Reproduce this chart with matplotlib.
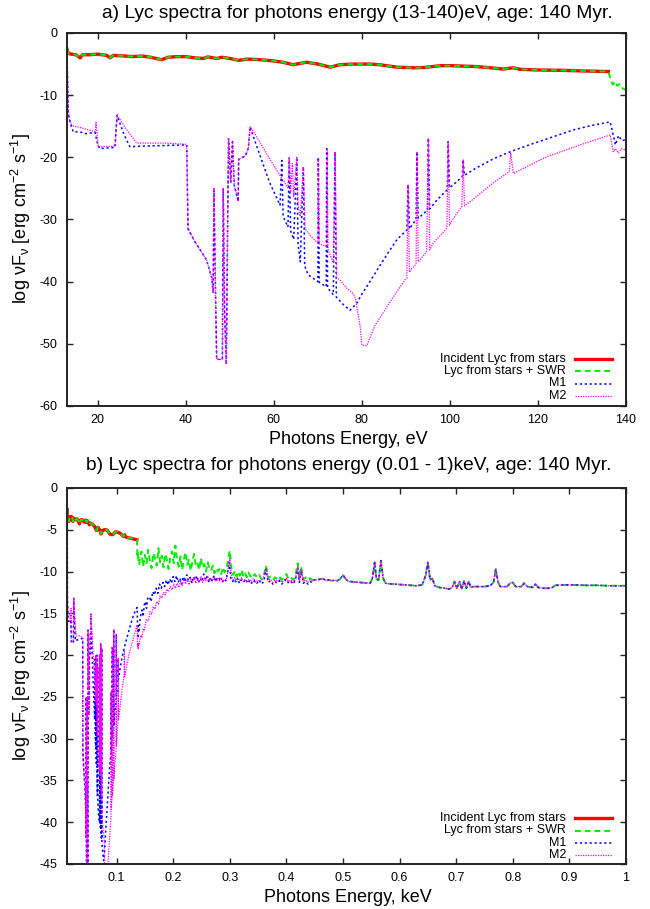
import numpy as np
import matplotlib
matplotlib.use("Agg")
import matplotlib.pyplot as plt
from matplotlib.lines import Line2D

plt.rcParams["font.family"] = ["Liberation Sans", "DejaVu Sans"]
plt.rcParams["mathtext.fontset"] = "custom"
plt.rcParams["mathtext.rm"] = "Liberation Sans"
plt.rcParams["mathtext.it"] = "Liberation Sans"
plt.rcParams["mathtext.bf"] = "Liberation Sans:bold"
plt.rcParams["axes.unicode_minus"] = False

# ---------------- spectra (energy in eV, log nuF_nu) ----------------
# incident Lyc continuum from the stars
inc_E = [13.0, 13.3, 14.0, 15.0, 16.0, 16.5, 18.0, 20.0, 22.0, 22.8, 23.5, 26.0, 28.0,
         30.0, 32.0, 34.5, 36.0, 38.0, 40.0, 42.0, 44.0, 45.0, 47.0, 48.2, 50.0, 52.0,
         54.0, 57.0, 60.0, 62.0, 64.4, 67.4, 70.0, 72.8, 75.0, 78.0, 80.0, 82.0, 84.0,
         86.0, 88.0, 90.0, 92.0, 94.0, 96.0, 98.0, 100.0, 102.0, 106.0, 110.0, 112.0,
         114.4, 116.0, 120.0, 125.0, 130.0, 136.0]
inc_F = [-2.6, -3.3, -3.4, -3.5, -4.0, -3.5, -3.5, -3.4, -3.6, -4.0, -3.6, -3.7, -3.8,
         -3.7, -3.9, -4.3, -3.9, -3.8, -3.8, -4.0, -4.1, -3.85, -4.1, -3.9, -4.1, -4.4,
         -4.2, -4.3, -4.5, -4.7, -5.1, -4.7, -5.0, -5.5, -5.1, -5.0, -5.0, -5.0, -5.1,
         -5.3, -5.5, -5.55, -5.6, -5.55, -5.4, -5.25, -5.25, -5.3, -5.4, -5.65, -5.8,
         -5.6, -5.85, -5.95, -6.0, -6.1, -6.2]

# stars + SWR beyond the end of the incident continuum
swr_E = [136.5, 137.0, 137.5, 138.0, 138.5, 139.0, 140.0, 141, 144, 147, 150, 153, 156,
         159, 162, 165, 168, 171, 174, 177, 180, 183, 186, 189, 192, 195, 198, 201, 204,
         207, 210, 213, 216, 219, 222, 225, 228, 231, 234, 237, 240, 243, 246, 249, 252,
         255, 258, 261, 264, 267, 270, 273, 276, 279, 282, 285, 288, 291, 294, 297, 300,
         303, 306, 309, 312, 315, 318, 321, 324, 327, 330, 333, 336, 340, 344, 348, 352,
         356, 360, 364, 368, 372, 376, 380, 384, 388, 392, 396, 400, 404, 408, 412, 416,
         420, 423, 426, 430, 434, 438, 442, 446]
swr_F = [-7.5, -8.3, -7.8, -8.5, -8.2, -8.8, -9.2, -8.6, -7.6, -9.4, -8.0, -9.0, -7.4,
         -8.8, -9.6, -7.8, -8.4, -9.3, -7.2, -8.9, -8.1, -9.5, -7.9, -8.6, -9.7, -8.3,
         -7.6, -9.0, -6.9, -8.7, -9.4, -8.2, -9.8, -8.5, -7.7, -9.2, -8.6, -9.9, -8.8,
         -7.9, -9.3, -9.0, -9.8, -8.4, -9.5, -9.1, -10.0, -8.9, -9.6, -9.9, -9.3, -10.2,
         -9.6, -10.0, -9.7, -10.3, -9.5, -10.1, -9.8, -8.6, -7.5, -9.6, -10.4, -9.9,
         -10.6, -10.0, -10.5, -9.8, -10.6, -10.2, -10.7, -10.1, -10.5, -10.8, -10.3,
         -10.7, -10.4, -10.9, -10.5, -9.3, -10.8, -10.6, -11.0, -10.7, -10.9, -10.6,
         -11.0, -10.7, -10.3, -10.9, -10.7, -11.0, -10.5, -9.0, -10.8, -9.4, -10.9,
         -10.7, -11.0, -10.8, -11.0]

# high-energy tail shared by all reprocessed spectra
tail_E = [450, 455, 460, 465, 470, 475, 480, 485, 490, 495, 500, 505, 510, 515, 520, 530,
          540, 548, 552, 556, 559, 563, 567, 571, 575, 580, 590, 600, 610, 620, 630, 640,
          646, 650, 654, 658, 662, 670, 680, 688, 693, 697, 701, 706, 710, 714, 718, 722,
          726, 730, 740, 750, 760, 766, 770, 774, 778, 790, 795, 800, 805, 815, 820, 826,
          835, 840, 845, 855, 862, 868, 875, 890, 910, 930, 950, 970, 1000]
tail_F = [-11.0, -11.0, -10.9, -10.85, -11.1, -11.0, -11.1, -11.05, -11.1, -10.9, -10.4,
          -10.9, -11.2, -11.2, -11.25, -11.3, -11.35, -11.4, -10.8, -8.9, -10.9, -11.0,
          -8.7, -10.8, -11.4, -11.45, -11.5, -11.55, -11.6, -11.65, -11.7, -11.6, -10.5,
          -8.9, -11.0, -10.8, -11.7, -11.9, -12.0, -12.1, -11.9, -11.2, -12.0, -11.2,
          -12.1, -11.1, -12.0, -11.2, -11.9, -11.8, -11.8, -11.8, -11.7, -11.3, -9.7,
          -11.3, -11.8, -11.8, -11.4, -11.3, -11.8, -11.8, -11.4, -11.8, -11.9, -11.5,
          -11.9, -12.0, -12.0, -12.0, -11.65, -11.6, -11.6, -11.65, -11.65, -11.7, -11.7]

# absorption trough common to M1 and M2 (40-55 eV)
dip_E = [40.5, 42.0, 44.7, 45.9, 46.2, 46.4, 46.7, 47.0, 48.3, 48.5, 48.8, 49.2, 49.5,
         49.7, 50.2, 50.6, 51.0, 51.9, 52.0, 53.5, 54.2, 54.6]
dip_F = [-31.5, -33.5, -36.5, -39.4, -41.8, -25.0, -40.0, -52.5, -52.5, -25.0, -45.0,
         -53.3, -30.0, -17.0, -24.0, -17.5, -24.5, -27.1, -20.3, -19.8, -18.5, -15.1]

# model M1
m1_lo_E = [13.0, 13.15, 13.3, 13.6, 14.0, 14.4, 16.0, 17.0, 19.4, 19.8, 20.4, 23.9,
           24.1, 24.4, 25.0, 26.0, 27.3, 30.0, 35.0, 40.2]
m1_lo_F = [-3.0, -8.0, -13.0, -14.0, -15.0, -15.9, -15.9, -16.2, -16.0, -17.5, -18.6,
           -18.4, -16.0, -13.2, -14.5, -16.4, -18.3, -18.2, -18.1, -18.0]
m1_hi_E = [55.5, 57.0, 59.0, 61.4, 61.8, 62.1, 63.2, 63.5, 63.8, 64.5, 65.2, 65.5, 66.0,
           66.7, 67.0, 67.8, 69.0, 70.0, 70.1, 70.3, 71.2, 71.9, 72.0, 72.2, 73.5, 73.9,
           74.2, 75.8, 77.3, 78.8, 80.0, 82.0, 84.0, 86.0, 88.0, 90.2, 90.5, 90.8, 92.3,
           92.5, 92.8, 94.9, 95.1, 95.4, 97.0, 99.4, 99.6, 99.9, 100.8, 102.8, 103.0,
           103.3, 106.0, 110.0, 113.7, 118.0, 123.0, 128.0, 132.0, 136.4, 137.1, 137.6,
           138.3, 139.0, 139.8]
m1_hi_F = [-17.0, -20.0, -24.0, -27.7, -20.5, -29.5, -31.2, -20.1, -31.8, -33.2, -20.0,
           -34.0, -36.8, -21.5, -37.5, -38.9, -39.5, -40.0, -20.0, -40.1, -40.5, -40.8,
           -18.6, -41.0, -42.1, -19.2, -42.5, -43.7, -44.6, -43.5, -42.0, -39.8, -37.5,
           -35.3, -33.2, -31.7, -24.4, -31.5, -30.0, -19.1, -29.8, -28.5, -16.9, -28.3,
           -26.9, -25.2, -17.5, -24.9, -24.4, -23.1, -20.4, -22.9, -21.7, -20.2, -19.1,
           -18.0, -16.8, -15.6, -14.9, -14.3, -16.4, -18.0, -16.5, -17.3, -17.2]
m1_x_E = [141, 143, 145, 147, 149, 151, 153, 155, 158, 161, 164, 167, 170, 173, 176, 179,
          182, 185, 188, 191, 194, 197, 200, 203, 206, 209, 212, 215, 218, 221, 224, 227,
          230, 233, 236, 239, 242, 245, 248, 251, 254, 257, 260, 263, 266, 269, 272, 275,
          278, 281, 284, 287, 290, 293, 296, 299, 302, 305, 308, 311, 314, 317, 320, 324,
          328, 332, 336, 340, 344, 348, 352, 356, 360, 364, 368, 372, 376, 380, 384, 388,
          392, 396, 400, 404, 408, 412, 416, 420, 423, 426, 430, 434, 438, 442, 446]
m1_x_F = [-16.0, -15.2, -14.6, -15.4, -14.0, -13.6, -14.4, -13.2, -13.0, -13.6, -12.4,
          -12.8, -12.0, -12.6, -11.5, -12.0, -11.3, -11.8, -11.0, -11.6, -10.9, -11.4,
          -10.6, -11.2, -10.5, -11.3, -10.8, -11.5, -10.6, -11.2, -10.4, -11.1, -10.7,
          -11.4, -10.6, -11.0, -10.5, -11.3, -10.8, -11.2, -10.3, -11.0, -10.6, -11.3,
          -10.7, -11.1, -10.5, -11.2, -10.8, -11.0, -10.6, -11.3, -10.9, -11.1, -10.2,
          -8.9, -10.8, -11.2, -10.9, -11.3, -10.8, -11.4, -11.0, -11.3, -10.9, -11.4,
          -11.0, -11.5, -11.1, -11.4, -11.0, -11.5, -11.2, -9.7, -11.3, -11.1, -11.5,
          -11.2, -11.4, -11.1, -11.5, -11.2, -10.9, -11.4, -11.2, -11.5, -11.0, -9.6,
          -11.3, -9.9, -11.4, -11.2, -11.5, -11.2, -11.3]

# model M2
m2_lo_E = [13.0, 13.15, 13.4, 13.8, 14.5, 16.0, 18.0, 19.4, 19.6, 19.8, 20.1, 23.9, 24.4,
           26.0, 28.8, 35.0, 40.2]
m2_lo_F = [-3.0, -8.0, -13.5, -14.5, -15.0, -15.2, -15.6, -15.9, -14.4, -16.0, -18.3,
           -18.2, -13.2, -15.0, -17.7, -17.7, -17.9]
m2_hi_E = [55.5, 58.0, 61.0, 63.2, 63.5, 63.8, 64.2, 64.5, 65.2, 65.5, 66.0, 66.7, 67.1,
           68.5, 70.0, 70.1, 70.3, 72.0, 72.1, 72.3, 73.5, 73.9, 74.3, 75.0, 76.5, 78.0,
           78.5, 79.6, 80.0, 81.1, 83.0, 85.0, 87.0, 89.8, 90.2, 90.5, 90.8, 91.3, 92.3,
           92.5, 92.8, 94.7, 95.1, 95.4, 96.2, 99.3, 99.6, 99.9, 100.8, 102.7, 103.0,
           103.3, 105.0, 110.0, 113.5, 113.8, 114.4, 118.0, 122.0, 126.0, 130.0, 133.0,
           136.4, 137.1, 137.6, 138.3, 139.0, 139.8]
m2_hi_F = [-16.0, -19.0, -22.5, -24.9, -20.1, -25.6, -21.0, -26.3, -20.0, -27.8, -29.5,
           -21.5, -31.5, -32.8, -33.8, -20.0, -33.9, -34.4, -18.6, -34.8, -37.0, -19.2,
           -39.4, -39.7, -41.0, -41.9, -42.6, -47.2, -50.2, -50.3, -47.0, -44.8, -42.6,
           -39.7, -39.5, -24.4, -38.5, -37.9, -37.2, -19.1, -36.8, -35.2, -16.9, -34.9,
           -33.8, -31.4, -17.5, -30.9, -29.8, -27.9, -20.4, -27.8, -26.9, -24.0, -22.3,
           -19.3, -22.6, -21.3, -19.9, -18.9, -17.9, -17.2, -16.4, -19.1, -18.6, -19.3,
           -18.6, -18.8]
m2_x_E = [141, 143, 145, 147, 149, 151, 153, 156, 159, 162, 165, 168, 171, 174, 177, 180,
          183, 186, 189, 192, 195, 198, 201, 204, 207, 210, 213, 216, 219, 222, 225, 228,
          231, 234, 237, 240, 243, 246, 249, 252, 255, 258, 261, 264, 267, 270, 273, 276,
          279, 282, 285, 288, 291, 294, 297, 300, 303, 306, 309, 312, 315, 318, 321, 324,
          327, 330, 334, 338, 342, 346, 350, 354, 358, 362, 365, 368, 372, 376, 380, 384,
          388, 392, 396, 400, 404, 408, 412, 416, 420, 423, 426, 430, 434, 438, 442, 446]
m2_x_F = [-18.2, -17.6, -17.9, -16.8, -17.1, -16.2, -15.7, -15.9, -14.8, -15.1, -14.2,
          -14.5, -13.6, -13.9, -12.9, -13.2, -12.5, -12.8, -12.1, -12.4, -11.8, -12.2,
          -11.5, -12.0, -11.4, -11.9, -11.2, -11.7, -10.9, -11.5, -11.0, -11.6, -10.8,
          -11.3, -10.7, -11.4, -10.9, -11.2, -10.6, -11.3, -10.8, -11.1, -10.5, -11.2,
          -10.9, -11.0, -10.6, -11.2, -10.8, -11.1, -10.7, -11.2, -10.9, -11.0, -9.8,
          -8.4, -10.6, -11.0, -10.7, -11.2, -10.8, -11.1, -10.7, -11.2, -10.9, -11.3,
          -10.9, -11.2, -10.8, -11.3, -11.0, -11.2, -10.9, -10.2, -9.6, -11.0, -10.9,
          -11.3, -11.0, -11.2, -10.9, -11.3, -11.0, -10.8, -11.2, -11.0, -11.3, -10.9,
          -9.4, -11.1, -9.7, -11.2, -11.0, -11.3, -11.0, -11.2]

labels = ["Incident Lyc from stars", "Lyc from stars + SWR", "M1", "M2"]

# assembled series
series = [
    (np.array(inc_E), np.array(inc_F)),
    (np.array(inc_E + swr_E + tail_E), np.array(inc_F + swr_F + tail_F)),
    (np.array(m1_lo_E + dip_E + m1_hi_E + m1_x_E + tail_E),
     np.array(m1_lo_F + dip_F + m1_hi_F + m1_x_F + tail_F)),
    (np.array(m2_lo_E + dip_E + m2_hi_E + m2_x_E + tail_E),
     np.array(m2_lo_F + dip_F + m2_hi_F + m2_x_F + tail_F)),
]

styles = [
    dict(color="#ff0000", lw=2.4, ls="-"),
    dict(color="#00ee00", lw=1.4, ls=(0, (3, 2))),
    dict(color="#0000ff", lw=1.1, ls=(0, (1.4, 1.8))),
    dict(color="#ff00ff", lw=0.9, ls=(0, (1, 1))),
]

W, H = 650, 909
fig = plt.figure(figsize=(W / 100, H / 100), dpi=100)


def fx(px):
    return px / W


def fy(py):
    return 1 - py / H


ax1 = fig.add_axes([fx(67), fy(406), (626 - 67) / W, (406 - 33) / H])
ax2 = fig.add_axes([fx(67), fy(864), (626 - 67) / W, (864 - 488) / H])

for (E, F), st in zip(series, styles):
    ax1.plot(E, F, **st)
    ax2.plot(E / 1000.0, F, **st)

ax1.set_xlim(13, 140)
ax1.set_ylim(-60, 0)
ax1.set_xticks(range(20, 141, 20))
ax1.set_yticks(range(-60, 1, 10))
ax1.set_yticklabels([str(v) for v in range(-60, 1, 10)])

ax2.set_xlim(0.0125, 1.0)
ax2.set_ylim(-45, 0)
xt = [0.1, 0.2, 0.3, 0.4, 0.5, 0.6, 0.7, 0.8, 0.9, 1.0]
ax2.set_xticks(xt)
ax2.set_xticklabels(["0.1", "0.2", "0.3", "0.4", "0.5", "0.6", "0.7", "0.8", "0.9", "1"])
ax2.set_yticks(range(-45, 1, 5))
ax2.set_yticklabels([str(v) for v in range(-45, 1, 5)])

for ax in (ax1, ax2):
    for sp in ax.spines.values():
        sp.set_linewidth(1.4)
        sp.set_color("#222222")
    ax.tick_params(direction="in", length=4, width=1.0, top=True, right=True,
                   labelsize=9, colors="#222222", labelcolor="black")
    ax.tick_params(axis="y", pad=7)
    ax.tick_params(axis="x", pad=6)

ylab = r"log $\nu$F$_\nu$ [erg cm$^{-2}$ s$^{-1}$]"
fig.text(fx(357), fy(18.5), "a) Lyc spectra for photons energy (13-140)eV, age: 140 Myr.",
         ha="center", va="baseline", fontsize=13.8)
fig.text(fx(349), fy(469.5), "b) Lyc spectra for photons energy (0.01 - 1)keV, age: 140 Myr.",
         ha="center", va="baseline", fontsize=13.8)
fig.text(fx(348), fy(443.5), "Photons Energy, eV", ha="center", va="baseline", fontsize=13)
fig.text(fx(348), fy(901.5), "Photons Energy, keV", ha="center", va="baseline", fontsize=13)
fig.text(fx(21), fy(219), ylab, rotation=90, ha="center", va="center", fontsize=13)
fig.text(fx(21), fy(676), ylab, rotation=90, ha="center", va="center", fontsize=13)

# key for each panel
for rows in ([359, 371, 383.5, 395.5], [818, 830.5, 843, 855]):
    for lab, st, py in zip(labels, styles, rows):
        fig.text(fx(566), fy(py), lab, ha="right", va="center", fontsize=9)
        fig.add_artist(Line2D([fx(575), fx(612)], [fy(py), fy(py)],
                              transform=fig.transFigure, **st))

fig.savefig("out.png", dpi=100)
